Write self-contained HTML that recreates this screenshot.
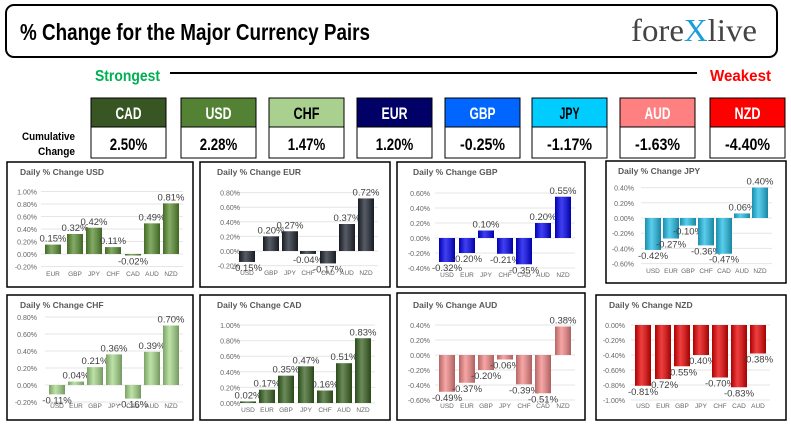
<!DOCTYPE html>
<html><head><meta charset="utf-8"><style>
body{margin:0;background:#fff;}
svg{display:block;}
.n{font-family:"Liberation Sans Narrow","Liberation Sans",sans-serif;font-weight:bold;}
</style></head><body>
<svg id="s" width="791" height="437" xmlns="http://www.w3.org/2000/svg">
<defs>
<linearGradient id="gd" x1="0" x2="1" y1="0" y2="0"><stop offset="0" stop-color="#000" stop-opacity="0.25"/><stop offset="0.4" stop-color="#fff" stop-opacity="0.25"/><stop offset="1" stop-color="#000" stop-opacity="0.3"/></linearGradient>
</defs>
<rect x="6" y="5" width="771" height="52" rx="8" fill="#fff" stroke="#000" stroke-width="2"/>
<text x="20" y="40" class="n" font-size="23" textLength="350" lengthAdjust="spacingAndGlyphs">% Change for the Major Currency Pairs</text>
<text x="631" y="41" font-family="Liberation Serif,serif" font-size="32" fill="#444" textLength="126" lengthAdjust="spacingAndGlyphs">fore<tspan fill="#1a9fd8">X</tspan>live</text>
<text x="95" y="81" class="n" font-size="16" fill="#00b050" textLength="65" lengthAdjust="spacingAndGlyphs">Strongest</text>
<line x1="170" y1="73" x2="697" y2="73" stroke="#000" stroke-width="2"/>
<text x="710" y="81" class="n" font-size="16" fill="#ff0000" textLength="61" lengthAdjust="spacingAndGlyphs">Weakest</text>
<text x="22" y="140" class="n" font-size="11" textLength="53" lengthAdjust="spacingAndGlyphs">Cumulative</text>
<text x="38" y="155" class="n" font-size="11" textLength="37" lengthAdjust="spacingAndGlyphs">Change</text>
<g id="boxes"></g>
<g id="charts"></g>
</svg>
<script>
var S='http://www.w3.org/2000/svg';
function el(p,t,a,txt){var e=document.createElementNS(S,t);for(var k in a)e.setAttribute(k,a[k]);if(txt!=null)e.textContent=txt;p.appendChild(e);return e;}
var bx=document.getElementById('boxes');
var cur=[['CAD','#375623','#fff','2.50%'],['USD','#548235','#fff','2.28%'],['CHF','#a9d08e','#000','1.47%'],['EUR','#000066','#fff','1.20%'],['GBP','#0066ff','#fff','-0.25%'],['JPY','#00ccff','#000','-1.17%'],['AUD','#ff8080','#fff','-1.63%'],['NZD','#ff0000','#fff','-4.40%']];
var xs=[91,181,269,357,445,532,620,710];
cur.forEach(function(c,i){var x=xs[i],w=75;
el(bx,'rect',{x:x,y:98,width:w,height:29,fill:c[1],stroke:'#000','stroke-width':1});
el(bx,'rect',{x:x,y:127,width:w,height:31,fill:'#fff',stroke:'#000','stroke-width':1});
var lw=c[0]=='JPY'?20:26;
el(bx,'text',{x:x+w/2-lw/2,y:119,'class':'n','font-size':17,fill:c[2],textLength:lw,lengthAdjust:'spacingAndGlyphs'},c[0]);
var vw=c[3].length*7.5;
el(bx,'text',{x:x+w/2-vw/2,y:150,'class':'n','font-size':17,fill:'#000',textLength:vw,lengthAdjust:'spacingAndGlyphs'},c[3]);});
var ch=document.getElementById('charts');
var P=[
{t:'USD',box:[7,162,186,125],ty:172,tx:20,tr:37,zero:254,ppu:62.5,min:-0.2,max:1.0,cx:[53,75,94,113,133,152,171],cats:['EUR','GBP','JPY','CHF','CAD','AUD','NZD'],v:[0.15,0.32,0.42,0.11,-0.02,0.49,0.81],ly:276,col:'#5a8f32'},
{t:'EUR',box:[200,162,190,125],ty:172,tx:217,tr:240,zero:251,ppu:73,min:-0.2,max:0.8,cx:[247,271,290,308,328,347,366],cats:['USD','GBP','JPY','CHF','CAD','AUD','NZD'],v:[-0.15,0.20,0.27,-0.04,-0.17,0.37,0.72],ly:275,col:'#1f2530'},
{t:'GBP',box:[397,162,188,125],ty:172,tx:413,tr:430,zero:238,ppu:75,min:-0.4,max:0.6,cx:[447,467,486,505,524,543,563],cats:['USD','EUR','JPY','CHF','CAD','AUD','NZD'],v:[-0.32,-0.20,0.10,-0.21,-0.35,0.20,0.55],ly:277,col:'#0000ee'},
{t:'JPY',box:[606,161,180,122],ty:171,tx:618,tr:634,zero:218,ppu:76,min:-0.6,max:0.4,cx:[653,671,688,706,724,742,760],cats:['USD','EUR','GBP','CHF','CAD','AUD','NZD'],v:[-0.42,-0.27,-0.10,-0.36,-0.47,0.06,0.40],ly:273,col:'#22bde6'},
{t:'CHF',box:[7,295,186,125],ty:305,tx:20,tr:37,zero:385,ppu:85,min:-0.2,max:0.8,cx:[57,76,95,114,133,152,171],cats:['USD','EUR','GBP','JPY','CAD','AUD','NZD'],v:[-0.11,0.04,0.21,0.36,-0.16,0.39,0.70],ly:408,col:'#a6d88a'},
{t:'CAD',box:[200,295,190,125],ty:305,tx:217,tr:240,zero:403,ppu:78,min:0,max:1.0,cx:[248,267,286,306,325,344,363],cats:['USD','EUR','GBP','JPY','CHF','AUD','NZD'],v:[0.02,0.17,0.35,0.47,0.16,0.51,0.83],ly:412,col:'#3a6322'},
{t:'AUD',box:[397,293,188,127],ty:305,tx:413,tr:430,zero:355,ppu:75,min:-0.6,max:0.4,cx:[447,467,486,505,524,543,563],cats:['USD','EUR','GBP','JPY','CHF','CAD','NZD'],v:[-0.49,-0.37,-0.20,-0.06,-0.39,-0.51,0.38],ly:408,col:'#f48888'},
{t:'NZD',box:[596,295,190,125],ty:305,tx:609,tr:625,zero:325,ppu:75,min:-1.0,max:0,cx:[643,663,682,701,720,739,758],cats:['USD','EUR','GBP','JPY','CHF','CAD','AUD'],v:[-0.81,-0.72,-0.55,-0.40,-0.70,-0.83,-0.38],ly:408,col:'#e80000'}];
P.forEach(function(p){var b=p.box;
el(ch,'rect',{x:b[0],y:b[1],width:b[2],height:b[3],fill:'#fff',stroke:'#000','stroke-width':1.5});
el(ch,'text',{x:p.tx,y:p.ty+3,'font-family':'Liberation Sans,sans-serif','font-size':8.5,'font-weight':'bold',fill:'#595959'},'Daily % Change '+p.t);
var x1=p.cx[0]-12,x2=p.cx[6]+12;
for(var v=p.min;v<=p.max+1e-6;v+=0.2){var y=p.zero-v*p.ppu;
el(ch,'line',{x1:x1,x2:x2,y1:y,y2:y,stroke:'#e6e6e6','stroke-width':1});
el(ch,'text',{x:p.tr,y:y+3,'text-anchor':'end','font-family':'Liberation Sans,sans-serif','font-size':7,fill:'#666'},v.toFixed(2).replace('-0.00','0.00')+'%');}
p.v.forEach(function(v,i){var cx=p.cx[i],h=Math.abs(v)*p.ppu,y=v>=0?p.zero-h:p.zero;
el(ch,'rect',{x:cx-8,y:y,width:16,height:Math.max(h,1.5),fill:p.col});
el(ch,'rect',{x:cx-8,y:y,width:16,height:Math.max(h,1.5),fill:'url(#gd)'});
var ly=v>=0?y-3:p.zero+h+9;
el(ch,'text',{x:cx,y:ly,'text-anchor':'middle','font-family':'Liberation Sans,sans-serif','font-size':9.5,fill:'#404040'},v.toFixed(2)+'%');
el(ch,'text',{x:cx,y:p.ly,'text-anchor':'middle','font-family':'Liberation Sans,sans-serif','font-size':6.5,fill:'#666'},p.cats[i]);});});
</script>
</body></html>
